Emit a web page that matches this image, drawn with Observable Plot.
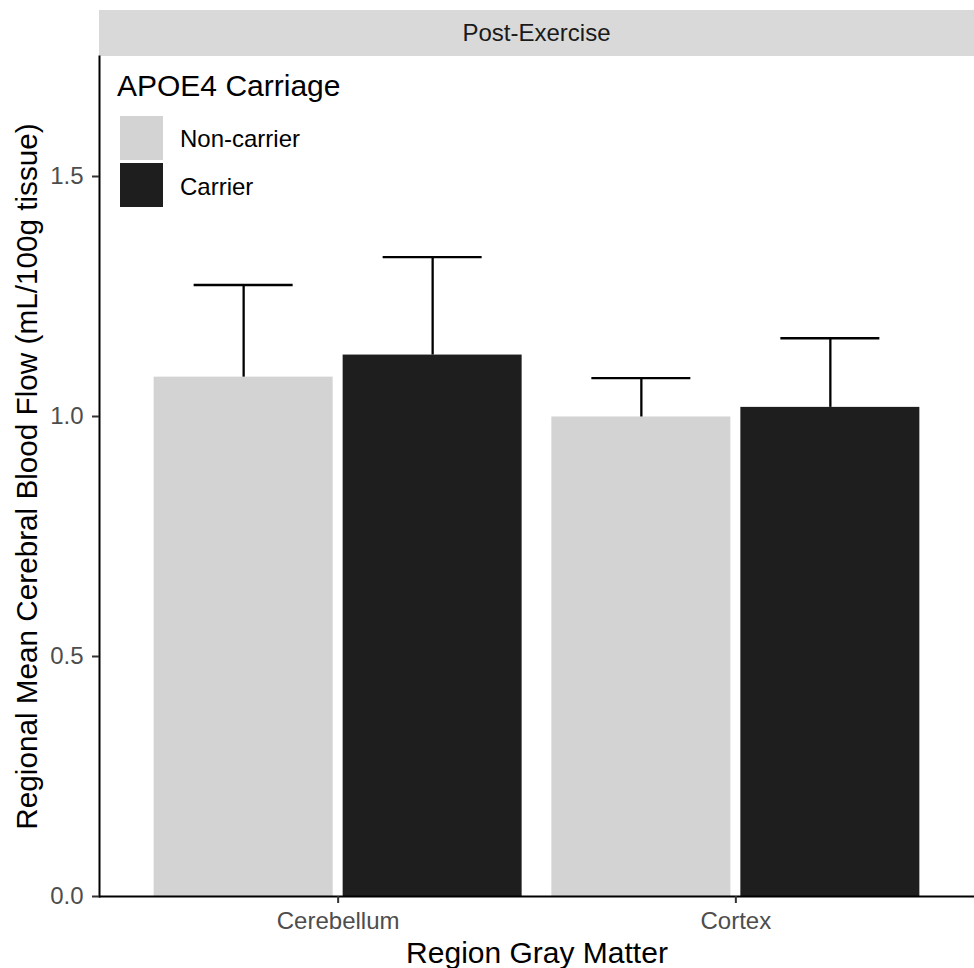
<!DOCTYPE html>
<html>
<head>
<meta charset="utf-8">
<script src="https://cdn.jsdelivr.net/npm/d3@7"></script>
<script src="https://cdn.jsdelivr.net/npm/@observablehq/plot@0.6"></script>
<style>
  html, body { margin: 0; padding: 0; background: #fff; }
  #wrap { position: relative; width: 974px; height: 968px; font-family: "Liberation Sans", Arial, Helvetica, sans-serif; }
  #strip { position: absolute; left: 99px; top: 10px; width: 875px; height: 46px; background: #d9d9d9;
           color: #1a1a1a; font-size: 24px; line-height: 46px; text-align: center; }
  #chart { position: absolute; left: 0; top: 56px; }
  #legend { position: absolute; left: 0; top: 0; }
  .lg-title { position: absolute; left: 117px; top: 70.6px; font-size: 30px; line-height: 30px; color: #000; white-space: nowrap; }
  .lg-key { position: absolute; left: 120px; width: 43px; height: 44px; }
  .lg-label { position: absolute; left: 180px; font-size: 24px; line-height: 24px; color: #000; white-space: nowrap; }
</style>
</head>
<body>
<div id="wrap">
  <div id="strip"></div>
  <div id="chart"></div>
  <div id="legend"></div>
</div>
<script>
// ---- data ----
const facetLabel = "Post-Exercise";
const regions = ["Cerebellum", "Cortex"];
const groups = ["Non-carrier", "Carrier"];
const groupColors = ["#d3d3d3", "#1e1e1e"];
const nonCarrierMean = [1.082, 0.999];
const carrierMean = [1.128, 1.019];
const nonCarrierUpper = [1.274, 1.080];
const carrierUpper = [1.332, 1.163];
const yTicks = [0, 0.5, 1.0, 1.5];
const legendTitle = "APOE4 Carriage";
const xTitle = "Region Gray Matter";
const yTitle = "Regional Mean Cerebral Blood Flow (mL/100g tissue)";

const rows = [];
regions.forEach((r, i) => {
  rows.push({region: r, group: groups[0], mean: nonCarrierMean[i], upper: nonCarrierUpper[i]});
  rows.push({region: r, group: groups[1], mean: carrierMean[i], upper: carrierUpper[i]});
});
const nc = rows.filter(d => d.group === groups[0]);
const ca = rows.filter(d => d.group === groups[1]);

document.getElementById("strip").textContent = facetLabel;

const font = "'Liberation Sans', Arial, Helvetica, sans-serif";
const plot = Plot.plot({
  width: 974,
  height: 912,
  marginTop: 0,
  marginBottom: 72,
  marginLeft: 99,
  marginRight: 0,
  style: {fontFamily: font, background: "white", overflow: "visible"},
  x: {domain: regions, paddingInner: 0.0747, paddingOuter: 0.1374, round: false, axis: null},
  y: {domain: [0, 1.75], axis: null},
  color: {domain: groups, range: groupColors},
  marks: [
    Plot.barY(nc, {x: "region", y: "mean", fill: "group", insetRight: 189}),
    Plot.barY(ca, {x: "region", y: "mean", fill: "group", insetLeft: 189}),
    Plot.ruleX(nc, {x: "region", y1: "mean", y2: "upper", dx: -94.5, stroke: "#000", strokeWidth: 2.3}),
    Plot.ruleX(ca, {x: "region", y1: "mean", y2: "upper", dx: 94.5, stroke: "#000", strokeWidth: 2.3}),
    Plot.tickY(nc, {x: "region", y: "upper", insetLeft: 40, insetRight: 229, stroke: "#000", strokeWidth: 2.3}),
    Plot.tickY(ca, {x: "region", y: "upper", insetLeft: 229, insetRight: 40, stroke: "#000", strokeWidth: 2.3}),
    Plot.ruleY([0], {stroke: "#000", strokeWidth: 2}),
    Plot.frame({anchor: "left", stroke: "#000", strokeWidth: 2}),
    Plot.axisY({ticks: yTicks, tickFormat: d3.format(".1f"), tickSize: 7, tickPadding: 9,
                stroke: "#333", strokeWidth: 2, fill: "#4d4d4d", fontSize: 24, label: null}),
    Plot.axisY({ticks: [], tickSize: 0, label: yTitle, labelAnchor: "center", labelArrow: "none",
                labelOffset: 84, fill: "#000", fontSize: 29.7}),
    Plot.axisX({tickSize: 7, tickPadding: 8, stroke: "#333", strokeWidth: 2, fill: "#4d4d4d",
                fontSize: 24, label: null}),
    Plot.axisX({ticks: [], tickSize: 0, label: xTitle, labelAnchor: "center", labelArrow: "none",
                labelOffset: 66, fill: "#000", fontSize: 30})
  ]
});
document.getElementById("chart").appendChild(plot);

// legend built from the same group arrays
const lg = document.getElementById("legend");
const t = document.createElement("div");
t.className = "lg-title"; t.textContent = legendTitle; lg.appendChild(t);
const keyTops = [116, 163.3];
groups.forEach((g, i) => {
  const k = document.createElement("div");
  k.className = "lg-key"; k.style.top = keyTops[i] + "px"; k.style.background = groupColors[i];
  lg.appendChild(k);
  const l = document.createElement("div");
  l.className = "lg-label"; l.style.top = (keyTops[i] + 11.3) + "px"; l.textContent = g;
  lg.appendChild(l);
});
</script>
</body>
</html>
